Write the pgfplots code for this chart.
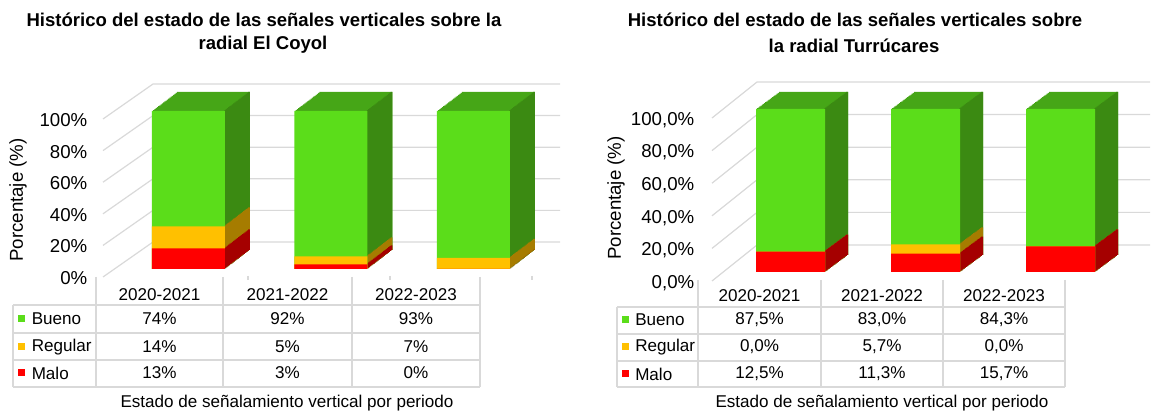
\documentclass[border=0pt]{standalone}
\usepackage{pgfplots}
\pgfplotsset{compat=1.18}
\usepackage{pgfplotstable}
\usepackage{fontspec}
\setmainfont{Liberation Sans}

\definecolor{buenoF}{HTML}{5BDD1A}
\definecolor{buenoS}{HTML}{3B8A12}
\definecolor{buenoT}{HTML}{46A617}
\definecolor{regularF}{HTML}{FFC000}
\definecolor{regularS}{HTML}{A67C00}
\definecolor{maloF}{HTML}{FF0000}
\definecolor{maloS}{HTML}{A50000}
\definecolor{gridc}{HTML}{D9D9D9}

\pgfkeys{/pgf/number format/assume math mode=true}

% El Coyol
\pgfplotstableread{
x Bueno Regular Malo
0 74 14 13
1 92 5 3
2 93 7 0
}\coyol
% Turrucares
\pgfplotstableread{
x Bueno Regular Malo
0 87.5 0.0 12.5
1 83.0 5.7 11.3
2 84.3 0.0 15.7
}\turru

% side strips of one series, drawn at every depth step
% #1 table, #2 depth x, #3 depth y, #4 front width, #5 colour, #6 y expression
\newcommand\side[6]{%
  \pgfplotsinvokeforeach{20,19,...,1}{%
    \addplot[ybar, bar width=1.4pt, bar shift=#4/2-0.7pt, draw=none, fill=#5,
      transform canvas={xshift=##1*#2/20, yshift=##1*#3/20}]
      table[x=x, y expr={#6}] {#1};
  }%
}
% fake 3d columns: top copies, side strips, then the front faces
% #1 table, #2 depth x, #3 depth y, #4 front width
\newcommand\bars[4]{%
  \pgfplotsinvokeforeach{20,19,...,1}{%
    \addplot[ybar, bar width=#4, bar shift=0pt, draw=none, fill=buenoT,
      transform canvas={xshift=##1*#2/20, yshift=##1*#3/20}]
      table[x=x, y expr={min(\thisrow{Bueno}+\thisrow{Regular}+\thisrow{Malo},100)}] {#1};
  }%
  \side{#1}{#2}{#3}{#4}{buenoS}{min(\thisrow{Bueno}+\thisrow{Regular}+\thisrow{Malo},100)}
  \side{#1}{#2}{#3}{#4}{regularS}{\thisrow{Regular}+\thisrow{Malo}}
  \side{#1}{#2}{#3}{#4}{maloS}{\thisrow{Malo}}
  \addplot[ybar, bar width=#4, bar shift=0pt, draw=none, fill=buenoF]
    table[x=x, y expr={min(\thisrow{Bueno}+\thisrow{Regular}+\thisrow{Malo},100)}] {#1};
  \addplot[ybar, bar width=#4, bar shift=0pt, draw=none, fill=regularF]
    table[x=x, y expr={\thisrow{Regular}+\thisrow{Malo}}] {#1};
  \addplot[ybar, bar width=#4, bar shift=0pt, draw=none, fill=maloF]
    table[x=x, y=Malo] {#1};
}

\begin{document}
\begin{tikzpicture}
\begin{scope}[x=0.75pt,y=-0.75pt]
  \useasboundingbox (0,0) rectangle (1158,412);
  % walls
  \foreach \v in {0,20,...,100} {
    \draw[gridc, line width=0.9pt] (103,{277-1.58*\v}) -- (153,{242-1.58*\v}) -- (560,{242-1.58*\v});
    \draw[gridc, line width=0.9pt] (712,{281-1.63*\v}) -- (757,{245-1.63*\v}) -- (1150,{245-1.63*\v});
  }
  \foreach \t in {248,390,532} \draw[gridc, line width=0.9pt] (\t,276) -- (\t,280);
\end{scope}

\begin{axis}[
  at={(69pt,-201.75pt)}, anchor=south west,
  x=106.875pt, y=1.185pt,
  xmin=-0.677, xmax=2.607, ymin=0, ymax=100,
  clip=false, axis line style={draw=none}, major tick length=0pt,
  xtick=\empty, ytick={0,20,...,100},
  yticklabel={\pgfmathprintnumber{\tick}\%},
  yticklabel style={font=\fontsize{14}{16}\selectfont, yshift=-6.75pt},
]
\bars{\coyol}{18.75pt}{14.25pt}{54.75pt}
\end{axis}

\begin{axis}[
  at={(524.25pt,-204pt)}, anchor=south west,
  x=101.25pt, y=1.2225pt,
  xmin=-0.678, xmax=2.6, ymin=0, ymax=100,
  clip=false, axis line style={draw=none}, major tick length=0pt,
  xtick=\empty, ytick={0,20,...,100},
  yticklabel={\pgfmathprintnumber[fixed,fixed zerofill,precision=1,use comma]{\tick}\%},
  yticklabel style={font=\fontsize{14}{16}\selectfont, yshift=-8.25pt},
]
\bars{\turru}{17.25pt}{12.75pt}{51.75pt}
\end{axis}

\begin{scope}[x=0.75pt,y=-0.75pt]
  % titles
  \begin{scope}[every node/.style={font=\bfseries\fontsize{13.9}{16}\selectfont}]
    \node at (264,20) {Histórico del estado de las señales verticales sobre la};
    \node at (263,45) {radial El Coyol};
    \node at (855,20) {Histórico del estado de las señales verticales sobre};
    \node at (854,46) {la radial Turrúcares};
  \end{scope}
  \node[rotate=90, font=\fontsize{14}{16}\selectfont] at (18,200) {Porcentaje (\%)};
  \node[rotate=90, font=\fontsize{14}{16}\selectfont] at (616,198) {Porcentaje (\%)};

  % data table, El Coyol
  \draw[gridc, line width=0.9pt] (13,305) -- (13,387);
  \foreach \c in {96,223,352,480} \draw[gridc, line width=0.9pt] (\c,277) -- (\c,387);
  \foreach \r in {305,333,360,387} \draw[gridc, line width=0.9pt] (13,\r) -- (480,\r);
  % data table, Turrucares
  \draw[gridc, line width=0.9pt] (617,307) -- (617,387);
  \foreach \c in {698,821,943,1065} \draw[gridc, line width=0.9pt] (\c,280) -- (\c,387);
  \foreach \r in {307,334,361,387} \draw[gridc, line width=0.9pt] (617,\r) -- (1065,\r);

  \begin{scope}[every node/.style={font=\fontsize{12.8}{14}\selectfont}]
    \foreach \cx/\lab in {159.5/2020-2021, 287.5/2021-2022, 416/2022-2023}
      \node at (\cx,295) {\lab};
    \foreach \cx/\lab in {759.5/2020-2021, 882/2021-2022, 1004/2022-2023}
      \node at (\cx,296) {\lab};
    \foreach \col/\ry/\cc in {Bueno/319/buenoF, Regular/347/regularF, Malo/373/maloF} {
      \fill[\cc] (17.5,\ry-3.5) rectangle (24.5,\ry+3.5);
      \node[anchor=west, inner sep=0pt] at (31.5,\ry) {\col};
    }
    \foreach \col/\ry/\cc in {Bueno/320/buenoF, Regular/347/regularF, Malo/374/maloF} {
      \fill[\cc] (622,\ry-3.5) rectangle (629,\ry+3.5);
      \node[anchor=west, inner sep=0pt] at (635,\ry) {\col};
    }
    \foreach \r/\cx in {0/159.5, 1/287.5, 2/416} {
      \foreach \col/\ry in {Bueno/319, Regular/347, Malo/373} {
        \pgfplotstablegetelem{\r}{\col}\of\coyol
        \node at (\cx,\ry) {\pgfmathprintnumber[fixed,precision=0]{\pgfplotsretval}\%};
      }
    }
    \foreach \r/\cx in {0/759.5, 1/882, 2/1004} {
      \foreach \col/\ry in {Bueno/320, Regular/347, Malo/374} {
        \pgfplotstablegetelem{\r}{\col}\of\turru
        \node at (\cx,\ry) {\pgfmathprintnumber[fixed,fixed zerofill,precision=1,use comma]{\pgfplotsretval}\%};
      }
    }
    \node at (287,403) {Estado de señalamiento vertical por periodo};
    \node at (882,403) {Estado de señalamiento vertical por periodo};
  \end{scope}
\end{scope}
\end{tikzpicture}
\end{document}
